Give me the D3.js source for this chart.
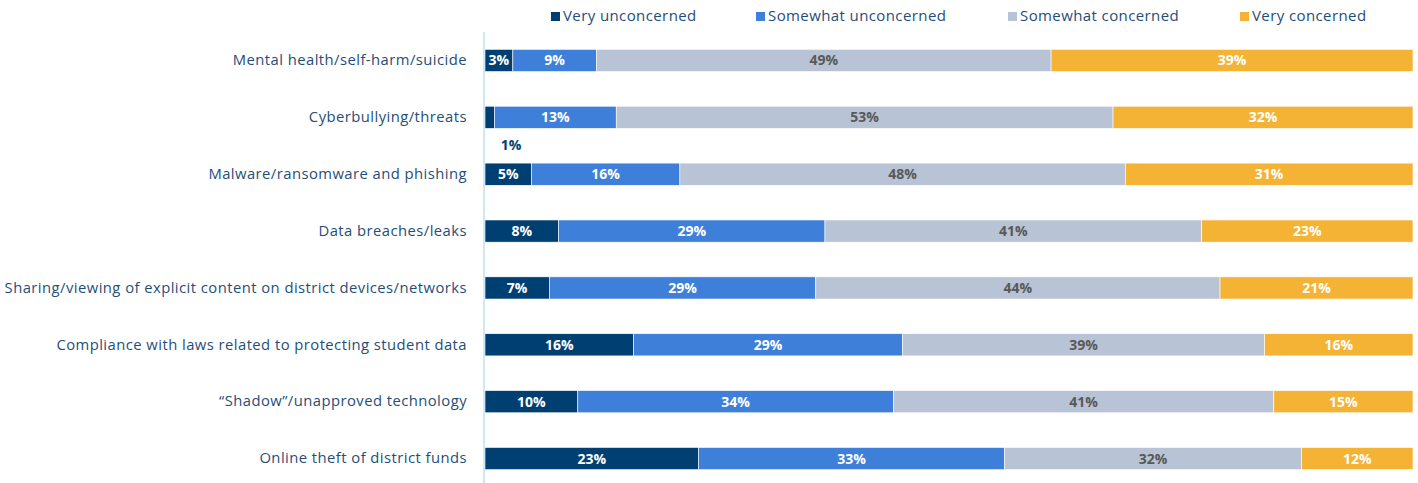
<!DOCTYPE html>
<html>
<head>
<meta charset="utf-8">
<script src="https://cdn.jsdelivr.net/npm/d3@7"></script>
<style>
  body { margin: 0; background: #fff; }
  svg { display: block; font-family: "Open Sans", Lato, sans-serif; }
</style>
</head>
<body>
<svg id="chart"></svg>
<script>
let W = 1418
let H = 483
let margin = ({ top: 32, right: 5, bottom: 0, left: 484 })

// data
let categories = [
	'Mental health/self-harm/suicide',
	'Cyberbullying/threats',
	'Malware/ransomware and phishing',
	'Data breaches/leaks',
	'Sharing/viewing of explicit content on district devices/networks',
	'Compliance with laws related to protecting student data',
	'\u201cShadow\u201d/unapproved technology',
	'Online theft of district funds'
]
let seriesNames = ['Very unconcerned', 'Somewhat unconcerned', 'Somewhat concerned', 'Very concerned']
let veryUnconcerned     = [3, 1, 5, 8, 7, 16, 10, 23]
let somewhatUnconcerned = [9, 13, 16, 29, 29, 29, 34, 33]
let somewhatConcerned   = [49, 53, 48, 41, 44, 39, 41, 32]
let veryConcerned       = [39, 32, 31, 23, 21, 16, 15, 12]

let colors = ['#003f72', '#3e7fd9', '#b8c3d5', '#f5b335']
let labelColors = ['#ffffff', '#ffffff', '#595959', '#ffffff']

let rows = categories.map((c, i) => ({
	cat: c,
	[seriesNames[0]]: veryUnconcerned[i],
	[seriesNames[1]]: somewhatUnconcerned[i],
	[seriesNames[2]]: somewhatConcerned[i],
	[seriesNames[3]]: veryConcerned[i]
}))

// each bar fills the full width (shares rounded in the source)
let stacked = d3.stack()
	.keys(seriesNames)
	.offset(d3.stackOffsetExpand)(rows)

let x = d3.scaleLinear()
	.domain([0, 1])
	.range([margin.left + 1, W - margin.right])

let y = d3.scaleBand()
	.domain(categories)
	.range([34, 485])
	.paddingInner(0.61)
	.paddingOuter(0.27)

let svg = d3.select('#chart')
	.attr('width', W)
	.attr('height', H)

// legend
let legendX = [551, 756, 1008, 1240]
let legend = svg.append('g')
	.selectAll('g')
	.data(seriesNames)
	.join('g')
	.attr('transform', (d, i) => `translate(${legendX[i]},16)`)
legend.append('rect')
	.attr('x', 0).attr('y', -4)
	.attr('width', 9).attr('height', 9)
	.attr('fill', (d, i) => colors[i])
legend.append('text')
	.attr('x', 12)
	.attr('dy', '0.35em')
	.attr('font-size', 15)
	.attr('letter-spacing', 0.4)
	.attr('fill', '#1f4e79')
	.text(d => d)

// bars
let layer = svg.append('g')
	.selectAll('g')
	.data(stacked)
	.join('g')
	.attr('fill', (d, i) => colors[i])

layer.selectAll('rect')
	.data(d => d)
	.join('rect')
	.attr('x', d => x(d[0]))
	.attr('y', d => y(d.data.cat))
	.attr('width', d => x(d[1]) - x(d[0]))
	.attr('height', y.bandwidth())
	.attr('stroke', '#ffffff')
	.attr('stroke-width', 0.6)

// value labels
stacked.forEach((s, si) => {
	svg.append('g')
		.attr('font-size', 14)
		.attr('font-weight', 'bold')
		.attr('text-anchor', 'middle')
		.selectAll('text')
		.data(s)
		.join('text')
		.each(function (d) {
			let w = x(d[1]) - x(d[0])
			let small = w < 15
			d3.select(this)
				.attr('x', small ? x(d[0]) + 26 : (x(d[0]) + x(d[1])) / 2)
				.attr('y', small ? y(d.data.cat) + y.bandwidth() + 17 : y(d.data.cat) + y.bandwidth() / 2)
				.attr('dy', '0.36em')
				.attr('fill', small ? colors[si] : labelColors[si])
				.text(d.data[s.key] + '%')
		})
})

// category axis
let axis = svg.append('g')
	.attr('transform', `translate(${margin.left},0)`)
	.call(d3.axisLeft(y).tickSize(0).tickPadding(17))
axis.select('.domain')
	.attr('stroke', '#bfe0f7')
	.attr('stroke-width', 1.5)
	.attr('d', `M0,${margin.top}V${H}`)
axis.selectAll('text')
	.attr('font-family', '"Open Sans", Lato, sans-serif')
	.attr('font-size', 14.8)
	.attr('letter-spacing', 0.45)
	.attr('fill', '#1f4e79')
</script>
</body>
</html>
